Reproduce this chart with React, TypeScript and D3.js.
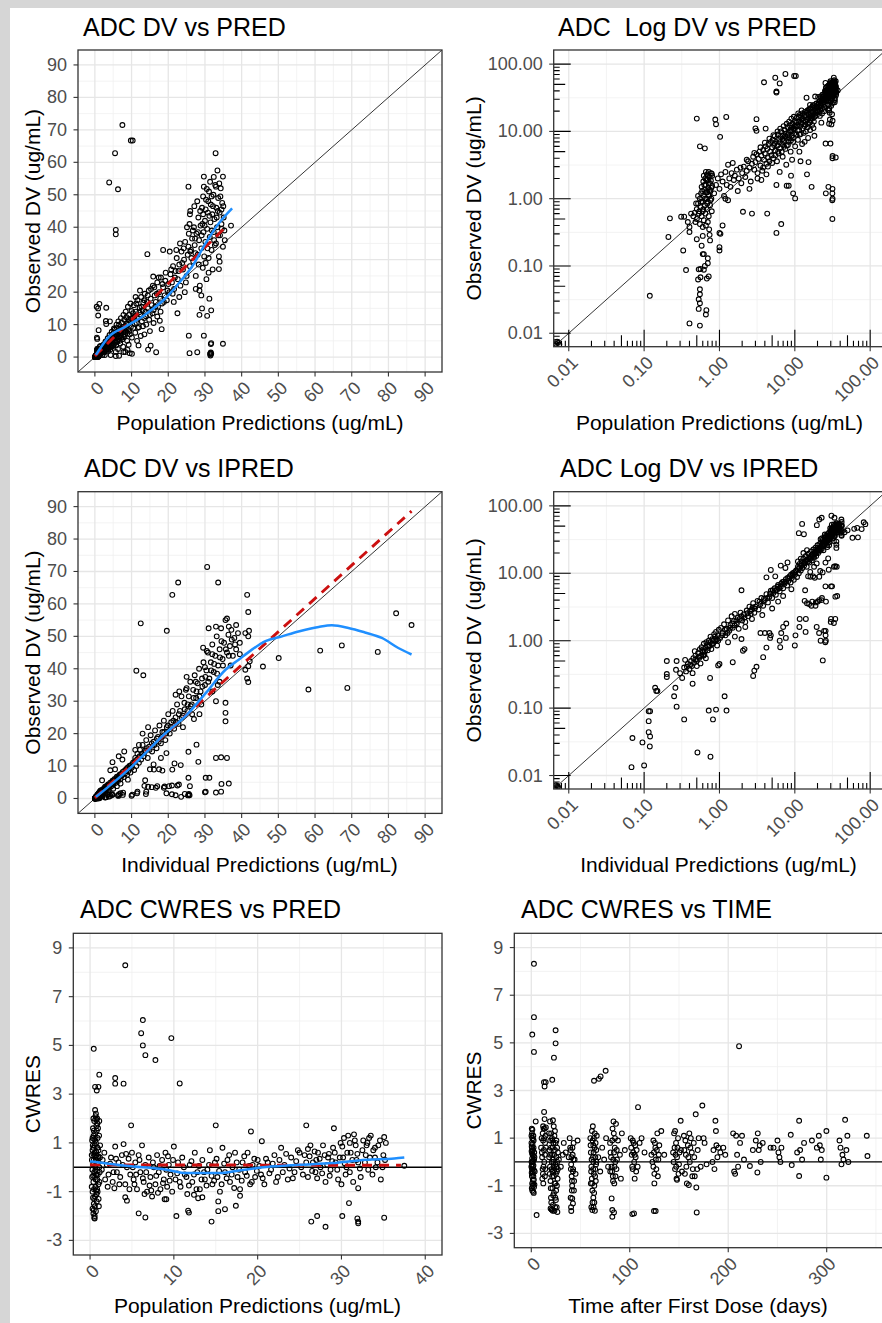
import React from "react";
import * as d3 from "d3";

type Pt = [number, number];

// ---------- data: PRED vs DV (used for linear and log panels) ----------
const PRED_DV_A: Pt[] = [
  [0.0068,0.0069],[0.0072,0.0072],[0.0075,0.0068],[0.007,0.0075],
  [0.45,0.55],[0.47,0.62],[0.48,0.45],[0.5,0.7],[0.5,0.5],[0.52,0.85],[0.53,0.6],[0.55,1.0],[0.55,0.42],[0.56,0.75],[0.57,1.2],[0.58,0.55],[0.58,1.5],[0.6,0.9],[0.6,0.65],[0.61,1.8],[0.62,1.1],[0.62,0.48],[0.63,1.35],[0.64,0.8],[0.65,2.0],[0.65,0.6],[0.66,1.6],[0.67,1.0],[0.68,2.3],[0.68,0.7],[0.69,1.25],[0.7,1.9],[0.7,0.9],[0.71,1.45],[0.72,2.5],[0.72,0.55],[0.73,1.1],[0.74,2.1],[0.75,1.7],[0.75,0.8],[0.76,1.3],[0.77,2.4],[0.78,1.0],[0.8,1.55],[0.8,2.2],[0.79,0.65],[0.66,0.4],[0.6,0.38],[0.7,0.45],[0.73,0.35],
  [0.57,0.9],[0.59,1.3],[0.61,0.7],[0.63,1.6],[0.64,1.0],[0.66,1.25],[0.67,1.9],[0.69,0.85],[0.71,1.15],[0.72,1.7],[0.74,1.35],[0.76,0.95],[0.77,1.85],[0.78,1.45],[0.79,2.35],[0.62,2.2],[0.66,2.5],[0.7,2.2],[0.52,1.1],[0.54,0.65],[0.49,0.85],
  [0.4,0.014],[0.55,0.013],[0.53,0.023],[0.55,0.028],[0.53,0.032],[0.55,0.038],[0.55,0.045],[0.67,0.022],[0.66,0.019],[0.52,0.063],[0.56,0.068],[0.53,0.089],[0.56,0.09],[0.62,0.088],[0.68,0.065],[0.64,0.1],[0.62,0.15],[0.6,0.15],[0.7,0.11],[0.75,0.24],[0.74,0.29],[0.5,0.25],[0.58,0.2],[0.6,0.28],[0.72,0.07],[0.7,0.13],
  [0.36,0.087],[0.33,0.17],[0.119,0.036],[0.22,0.51],[0.21,0.27],[0.31,0.54],[0.34,0.54],[0.38,0.45],[0.4,0.32],[1.0,0.19],[1.0,0.17],[1.0,0.31],[1.03,0.3],[1.1,0.4],[0.42,0.6],[0.4,0.38],
  [0.64,5.6],[0.88,15],[0.9,12.8],[1.23,16.4],[1.02,8.3],[0.5,15.5],[0.55,6.0],[3.1,15.2],[3.0,11.1],[3.1,10.2],[4.1,11],[2.05,0.64],[2.7,0.6],[4.3,0.6],[5.7,0.31],[6.6,0.42],[7.8,1.56],[8.3,1.56],[10.1,1.01],[11.9,3.6],[14.5,2.3],[16.7,1.5],[15.2,3.5],[9.5,1.2]
];
const PRED_DV_B: Pt[] = [
  [0.85,1.2],[0.9,1.6],[0.95,2.0],[1.0,1.4],[1.05,2.3],[1.1,1.8],[1.15,1.1],[1.2,2.5],[1.25,1.6],[1.3,3.2],[1.35,2.0],[1.4,1.5],[1.45,2.4],[1.5,3.4],[1.55,1.9],[1.6,2.2],[1.7,2.7],[1.75,1.3],[1.8,2.0],[1.9,2.9],[1.95,1.7],[2.0,2.4],[1.3,0.95],[1.2,1.0],
  [2.1,3.0],[2.2,2.1],[2.3,2.6],[2.4,3.6],[2.5,2.9],[2.6,1.8],[2.7,3.3],[2.8,4.2],[2.9,2.7],[3.0,3.5],[3.1,4.6],[3.2,2.4],[3.3,3.9],[3.4,5.0],[3.5,3.1],[3.6,4.4],[3.7,2.6],[3.8,5.3],[3.9,3.8],[4.0,4.7],[4.1,6.0],[4.2,3.3],[4.3,5.5],[4.4,4.1],[4.5,6.5],[4.6,3.6],[4.7,5.0],[4.8,7.0],[4.9,4.4],[5.0,5.8],[2.5,1.4],[3.6,1.9],[4.2,2.3],
  [2.3,3.8],[2.9,4.8],[3.5,5.8],[4.0,6.8],[4.6,7.8],[5.2,8.8],[5.9,10.0],[6.4,11.0],[7.1,12.0],[7.8,13.0],[8.4,14.0],[9.0,15.5],[9.7,16.5],
  [3.2,2.0],[3.8,2.9],[4.4,3.0],[5.0,3.4],[5.5,4.4],[6.0,5.0],[6.7,5.0],[7.2,5.9],[7.8,6.2],[8.2,7.0],[8.9,7.4],[9.4,8.0],[5.4,6.6],[6.3,6.9],[6.9,7.8],[7.4,8.4],[8.0,8.8],[8.7,10.4],[9.2,11.4],[9.9,11.9],
  [5.1,7.5],[5.2,4.0],[5.3,6.3],[5.4,8.5],[5.5,5.2],[5.6,7.0],[5.8,3.6],[5.9,6.2],[6.0,9.0],[6.1,4.7],[6.2,7.6],[6.4,5.6],[6.5,8.3],[6.6,10.0],[6.8,6.5],[6.9,4.2],[7.0,8.8],[7.2,7.2],[7.3,10.6],[7.5,5.5],[7.6,9.3],[7.8,7.8],[8.0,11.5],[8.1,6.3],[8.3,9.6],[8.5,8.0],[8.6,12.3],[8.8,5.0],[9.0,10.2],[9.1,8.6],[9.3,13.0],[9.5,7.0],[9.6,11.0],[9.8,9.3],[10.0,14.2],[10.1,6.0],[6.3,2.5],[7.7,3.2],[9.2,3.8],[5.7,1.6],[8.9,2.2]
];
const PRED_DV_C: Pt[] = [
  [10.3,11.8],[10.5,9.0],[10.6,16.0],[10.8,12.5],[11.0,7.5],[11.2,14.0],[11.4,10.5],[11.6,17.5],[11.8,12.0],[12.0,9.2],[12.2,15.2],[12.4,13.0],[12.6,18.5],[12.8,11.0],[13.0,14.5],[13.2,16.8],[13.4,12.0],[13.6,19.5],[13.8,14.0],[14.0,10.0],[14.2,17.0],[14.5,15.0],[14.7,20.5],[15.0,13.0],[15.2,18.0],[15.5,16.0],[15.8,22.0],[16.0,14.5],[16.3,19.0],[16.6,17.0],[17.0,23.0],[17.2,15.5],[17.5,20.0],[17.8,18.0],[18.0,24.5],[18.3,16.5],[18.6,21.5],[19.0,19.0],[19.3,26.0],[19.6,17.5],[20.0,22.5],[12.5,6.5],[15.0,8.0],[16.0,10.5],[18.2,8.6],[17.7,11.2],[15.9,24.8],[14.3,31.7],[18.6,33],[20.4,32.5],[11.5,5.0],[13.5,7.0],[17.0,12.5],
  [10.4,13.5],[10.9,10.2],[11.3,16.5],[11.7,9.0],[12.1,13.8],[12.7,15.5],[13.1,9.5],[13.5,17.5],[13.9,12.6],[14.4,19.0],[14.8,11.5],[15.3,21.0],[15.7,13.5],[16.2,21.5],[16.5,15.5],[16.9,19.5],[17.4,24.5],[17.9,14.0],[18.4,22.5],[18.8,17.0],[19.2,23.5],[19.8,20.5],[11.1,18.5],[12.3,20.5],
  [20.3,20.0],[20.6,25.5],[21.0,23.0],[21.3,28.0],[21.6,21.0],[22.0,26.5],[22.3,30.5],[22.6,24.0],[23.0,28.5],[23.3,22.0],[23.6,32.5],[24.0,27.0],[24.3,30.0],[24.6,35.5],[25.0,25.0],[25.3,31.5],[25.6,38.0],[25.9,28.0],[21.5,17.0],[23.0,18.5],[24.5,20.0],[22.5,13.5],[25.5,52.5],[26.0,45.0],[25.8,41.0],
  [20.8,27.0],[21.2,19.5],[21.8,24.5],[22.2,33.0],[22.8,26.5],[23.2,35.0],[23.8,29.0],[24.2,33.5],[24.8,23.0],[25.1,40.0],[25.5,34.0],[25.9,44.0],[26.3,30.5],[26.7,39.0],[27.1,46.5],[27.4,32.0],[27.9,48.0],[28.3,28.5],[28.7,45.0],[29.1,37.5],[29.5,49.5],[29.9,40.5],[30.2,45.5],[30.7,33.5],[31.2,43.5],[31.4,54.0],[31.9,39.0],[32.2,46.5],[32.7,34.5],[33.2,43.0],[33.6,37.5],[34.2,49.5],[34.6,39.5],[35.0,46.5],[35.4,36.0],[33.9,53.5],[32.4,55.5],[30.9,48.0],[29.3,41.0],[28.1,38.5],[27.3,36.5],[26.0,32.5],
  [26.2,33.0],[26.5,36.5],[26.8,29.5],[27.0,40.0],[27.2,34.5],[27.5,25.0],[27.7,38.0],[28.0,31.5],[28.2,43.0],[28.4,36.0],[28.6,22.0],[28.8,40.5],[29.0,33.5],[29.2,46.0],[29.4,27.5],[29.6,38.5],[29.7,52.5],[29.8,31.0],[30.0,42.0],[30.1,35.5],[30.3,48.5],[30.4,24.0],[30.6,39.5],[30.8,44.5],[31.0,30.5],[31.1,51.0],[31.3,37.0],[31.5,41.5],[31.6,47.0],[31.8,33.0],[32.0,44.0],[32.1,27.0],[32.3,50.0],[32.4,38.5],[32.6,42.5],[32.8,53.0],[33.0,35.0],[33.1,46.0],[33.3,40.0],[33.4,57.5],[33.6,49.0],[33.8,31.0],[34.0,44.5],[34.1,37.5],[34.3,52.0],[34.5,41.0],[34.7,47.5],[34.9,34.0],[35.1,43.0],[35.3,39.0],[29.7,55.6],[32.9,62.8],[34.9,55.6],[37.1,40.5],[33.8,27.1],[34.0,29.4],[28.5,20.5],[27.5,21.0],[30.2,29.0],[31.0,26.0],[32.5,36.0],[33.5,45.0],[31.8,49.5],[30.5,51.8],[29.5,44.0],[33.0,52.5],[34.5,45.5],
  [25.6,6.6],[29.7,6.6],[25.8,1.2],[27.9,1.5],[31.5,1.2],[31.7,1.0],[31.6,1.4],[31.4,0.95],[31.7,4.3],[31.6,4.0],[34.9,4.1],[30.6,12.7],[31.7,14.4],[31.2,18],[29,19],[31.5,0.5],[28.5,13],[29.2,15],
  [7.5,71.5],[9.8,66.7],[10.3,66.7],[5.5,62.8],[3.9,53.8],[6.3,51.7],[5.7,39.2],[5.7,37.8]
];
const PRED_DV: Pt[] = [...PRED_DV_A, ...PRED_DV_B, ...PRED_DV_C];

// ---------- data: IPRED vs DV ----------
const IPRED_DV_A: Pt[] = [
  [0.007,0.007],[0.0072,0.0068],[0.0068,0.0072],
  [0.068,0.0133],[0.1,0.0141],[0.07,0.036],[0.095,0.031],[0.119,0.027],[0.115,0.044],[0.12,0.038],[0.115,0.064],[0.115,0.09],[0.12,0.09],[0.14,0.2],[0.145,0.18],[0.15,0.18],[0.2,0.5],[0.2,0.32],[0.2,0.29],[0.27,0.5],[0.265,0.37],[0.26,0.2],[0.25,0.15],[0.27,0.105],[0.34,0.068],[0.44,0.23],[0.51,0.022],[0.76,0.019],[0.72,0.092],[0.9,0.095],[0.82,0.068],[1.17,0.15],[1.24,0.092],[0.75,0.28],[0.96,0.43],[1.0,0.45],[1.5,0.48],[1.96,1.06],[2.05,0.71],[2.15,0.75],[2.9,0.36],[3.1,0.41],[2.8,0.3],[3.8,0.57],[4.2,0.79],[4.6,1.3],[4.8,1.2],[4.7,1.1],[3.5,1.3],[4.0,1.3],[6.3,1.0],[6.6,1.3],[6.4,0.8],[7.0,1.6],[7.7,1.8],[7.6,1.1],[10,0.85],[11.5,1.6],[13.9,1.35],[1.96,5.6],
  [0.3,0.33],[0.32,0.28],[0.34,0.4],[0.36,0.35],[0.38,0.45],[0.4,0.38],[0.42,0.5],[0.43,0.42],[0.45,0.55],[0.46,0.47],[0.48,0.6],[0.5,0.5],[0.5,0.42],[0.52,0.65],[0.54,0.56],[0.55,0.75],[0.57,0.6],[0.58,0.8],[0.6,0.68],[0.62,0.9],[0.63,0.62],[0.65,0.78],[0.67,0.95],[0.7,0.72],[0.72,1.0],[0.74,0.85],[0.76,1.15],[0.78,0.75],[0.8,1.05],[0.82,0.9],[0.85,1.25],[0.88,1.0],[0.9,1.35],[0.93,0.85],[0.95,1.2],[0.98,1.45],[0.44,0.33],[0.56,0.46],[0.66,0.55],[0.47,0.7],[0.35,0.52],
  [0.37,0.41],[0.41,0.44],[0.49,0.53],[0.53,0.58],[0.59,0.72],[0.61,0.6],[0.64,0.7],[0.68,0.85],[0.71,0.82],[0.75,0.95],[0.79,0.9],[0.84,1.0],[0.87,1.15],[0.92,1.05],[0.96,1.0],
  [1.02,1.1],[1.05,1.55],[1.1,1.3],[1.15,1.75],[1.2,1.2],[1.25,1.5],[1.3,2.0],[1.35,1.4],[1.4,1.7],[1.45,2.3],[1.5,1.55],[1.55,1.95],[1.6,2.5],[1.7,1.8],[1.75,2.2],[1.8,1.5],[1.9,2.6],[2.0,2.0],[2.1,2.45],[2.2,1.9],[2.3,2.8],[2.4,2.3],[2.5,3.2],[2.6,2.5],[2.7,2.9],[2.8,3.6],[2.9,2.6],[3.0,3.2],[1.3,0.95],[1.6,1.15],[2.2,1.6],[2.7,2.1],
  [1.08,1.2],[1.18,1.45],[1.28,1.3],[1.38,1.55],[1.48,1.8],[1.58,1.7],[1.68,2.0],[1.85,2.1],[1.95,2.3],[2.15,2.2],[2.35,2.55],[2.55,2.75],[2.75,3.1],[2.95,3.0]
];
const IPRED_DV_B: Pt[] = [
  [3.2,3.9],[3.3,2.9],[3.5,3.5],[3.6,4.3],[3.8,3.3],[4.0,4.0],[4.2,4.9],[4.4,3.7],[4.6,4.5],[4.8,5.5],[5.0,4.3],[5.2,5.1],[5.4,6.0],[5.6,4.8],[5.8,5.7],[6.0,6.7],[6.3,5.4],[6.5,6.3],[6.8,7.4],[7.0,6.0],[7.3,7.0],[7.6,8.2],[7.9,6.6],[8.2,7.7],[8.5,9.0],[8.8,7.3],[9.1,8.5],[9.4,10.0],[9.7,8.0],[10.0,9.5],[4.2,8.7],[4.8,11.2],[5.5,9.0],[6.5,13.0],[7.5,12.0],[8.0,14.5],[3.7,2.4],[5.0,3.0],[6.0,3.8],[7.0,4.6],[9.0,5.8],
  [3.4,3.8],[3.9,4.2],[4.3,4.3],[4.7,5.0],[5.1,5.6],[5.5,5.5],[5.9,6.3],[6.2,6.0],[6.6,7.0],[7.1,7.5],[7.5,7.4],[8.0,8.5],[8.4,8.4],[8.9,9.5],[9.3,9.2],[9.8,10.3],
  [10.4,11.0],[10.7,8.8],[11.0,12.5],[11.3,10.0],[11.6,13.8],[12.0,11.0],[12.3,15.0],[12.6,12.0],[13.0,16.5],[13.3,13.0],[13.7,14.8],[14.0,18.0],[14.4,12.5],[14.8,16.0],[15.2,19.5],[15.6,14.5],[16.0,17.5],[16.4,21.0],[16.8,15.5],[17.2,19.0],[17.6,22.5],[18.0,17.0],[18.4,20.5],[18.8,24.0],[19.2,18.0],[19.6,22.0],[20.0,26.0],[12.0,16.5],[13.0,20.0],[11.0,15.0],[14.5,22.0],[16.0,10.5],[18.0,12.5],[17.5,9.0],[19.5,14.0],[15.0,9.0],
  [10.2,10.5],[10.9,11.5],[11.5,12.0],[12.2,13.0],[12.9,13.8],[13.5,14.2],[14.2,15.5],[14.9,15.0],[15.5,17.0],[16.2,16.5],[16.9,18.5],[17.4,17.5],[18.2,19.0],[18.9,20.5],[19.4,20.0],[19.9,22.5]
];
const IPRED_DV_C: Pt[] = [
  [20.4,20.0],[20.8,23.5],[21.2,27.0],[21.6,21.5],[22.0,25.0],[22.4,29.0],[22.8,23.0],[23.2,27.0],[23.6,31.5],[24.0,25.5],[24.4,29.5],[24.8,33.5],[25.2,27.0],[25.6,31.5],[26.0,36.0],[26.4,29.0],[26.8,33.5],[27.2,38.0],[27.6,31.0],[28.0,35.5],[28.4,40.0],[28.8,33.0],[29.2,37.0],[29.6,42.0],[30.0,35.0],[22.0,32.0],[23.0,33.0],[25.0,37.5],[26.5,26.0],[28.5,26.0],[24.0,22.0],[27.0,24.5],[29.0,29.0],
  [20.6,22.0],[21.4,24.0],[22.2,23.5],[22.9,26.0],[23.7,25.0],[24.5,27.5],[25.3,29.0],[26.1,28.5],[26.9,31.0],[27.7,33.0],[28.5,31.5],[29.3,34.5],[30.1,37.5],[30.9,36.0],[31.7,39.5],[32.5,41.5],[33.3,38.5],[34.1,43.5],[34.9,41.0],[35.7,46.0],[36.5,44.0],[37.3,49.0],[38.2,47.5],[39.5,48.0],[25.0,34.0],[27.5,36.0],[30.0,40.5],[32.0,44.5],[34.5,48.5],[36.5,53.0],[38.5,53.5],[39.5,44.5],[37.0,41.0],[33.5,35.0],
  [30.4,39.5],[30.8,45.0],[31.2,37.0],[31.6,42.0],[32.0,47.5],[32.4,39.0],[32.8,44.0],[33.2,50.0],[33.6,41.0],[34.0,46.0],[34.4,52.5],[34.8,43.0],[35.2,48.0],[35.6,55.0],[36.0,45.0],[36.4,50.5],[36.8,47.0],[37.2,52.0],[37.6,44.0],[38.0,49.5],[38.5,46.0],[39.0,51.0],[32.0,33.0],[33.0,30.0],[34.0,36.0],[35.6,29.5],[35.6,26.4],[35.6,23.8],[31.0,52.5],[33.0,53.0],[36.0,55.5],[30.5,45.5],[29.5,46.5],
  [41.0,51.0],[41.8,50.0],[42.0,51.7],[41.0,39.7],[41.5,37.0],[41.8,35.9],[41.8,40.8],[42.2,42.3],
  [30.6,71.4],[22.7,66.6],[33.6,66.6],[21.1,62.8],[41.5,62.8],[41.8,57.5],[12.5,54],[19.6,51.7],[11.3,39.4],[13.2,38],[82.1,57.1],[86.3,53.5],[61.4,45.6],[67.3,47.2],[77.1,45.2],[50.1,43.3],[45.8,40.7],[58.2,33.6],[68.8,34.1],[34.4,12.7],[31.2,6.4],[36.5,4.6],[34.4,2.1],[30.2,2.1],[25.5,14.4],[28.2,11.3],[27.7,16.6],[23.4,10.3],[21.7,10.8],[21.1,8.9],[18.4,8.6],[16.1,8.9],
  [13.7,5.6],[14,2.1],[11.6,2.1],[10.2,1.2],[16.6,3.3],[18.8,3.3],[20.2,3.8],[22.9,4.3],[25.5,6.4],[25.9,3.8],[19.5,1.6],[21,1.3],[22,1.0],[23.5,0.51],[24.5,1.4],[25.6,1.2],[25.8,1.0],[25.4,0.95],[25.6,1.4],[30,1.9],[33,1.83],[30.2,6.4],[34.5,4.5],[33,12.5],[36,12.5],[13.5,3.9],[14.5,3.6],[15.5,3.5],[17,3.8],[19,3.7],[21,4.0],[22.5,4.0]
];
const IPRED_DV: Pt[] = [...IPRED_DV_A, ...IPRED_DV_B, ...IPRED_DV_C];

// ---------- data: PRED vs CWRES ----------
const PRED_CWRES_A: Pt[] = [
  [0.2,0.5],[0.25,-0.4],[0.3,1.2],[0.3,-1.0],[0.35,0.1],[0.35,1.6],[0.4,-0.6],[0.4,0.8],[0.45,-1.5],[0.45,0.3],[0.5,1.9],[0.5,-0.2],[0.5,-2.07],[0.55,-2.1],[0.55,0.6],[0.6,-1.2],[0.6,1.4],[0.6,2.35],[0.65,-0.8],[0.65,0.0],[0.7,1.0],[0.7,-1.8],[0.7,2.2],[0.75,-0.3],[0.75,1.7],[0.8,0.4],[0.8,-1.4],[0.85,2.0],[0.85,-0.5],[0.9,1.2],[0.9,-1.0],[0.95,0.2],[0.95,1.6],[1.0,-0.7],[1.0,0.7],[1.05,-1.6],[1.1,1.9],[1.1,0.0],[1.15,-0.2],[1.2,0.9],[0.3,-1.7],[0.4,-1.9],[0.45,1.5],[0.55,0.9],[0.65,-0.1],[0.75,0.5],[0.85,-0.9],[0.2,-0.8],[0.25,1.1],[0.4,2.0],[0.5,-1.3],[0.7,0.3],[0.6,-0.4],[0.3,0.7],[0.8,1.5],
  [0.22,0.3],[0.28,-0.1],[0.33,0.9],[0.38,-0.35],[0.42,1.3],[0.47,-0.9],[0.52,0.45],[0.57,-1.6],[0.62,1.1],[0.67,-0.5],[0.72,0.65],[0.78,-1.1],[0.82,0.15],[0.88,1.8],[0.92,-0.3],[0.98,0.45],[1.02,-1.3],[1.08,1.3],[1.12,-0.6],[1.18,0.4],[0.35,-1.25],[0.45,-1.75],[0.55,-2.0],[0.65,2.1],[0.75,1.95],[0.5,1.15],[0.6,0.05],[0.7,-0.95],[0.9,0.8],[0.4,0.55],
  [1.5,0.3],[1.8,-0.5],[2.0,0.1],[2.2,-0.3],[2.5,0.4],[2.7,-0.6],[3.0,0.85],[3.2,-0.2],[3.4,0.2],[3.6,-0.4],[3.8,0.5],[4.0,0.95],[4.2,-0.7],[4.4,0.0],[4.6,0.35],[4.8,-0.3],[5.0,0.6],
  [1.4,-0.1],[1.7,0.6],[2.1,-0.8],[2.4,0.15],[2.8,-0.2],[3.1,0.35],[3.5,-0.7],[3.9,0.1],[4.3,0.55],[4.7,-0.9],[5.1,0.0],[5.5,-0.3],[5.9,0.3],[6.3,-0.45],[6.7,-0.2],[7.1,-0.75],[7.5,0.2],[7.9,-0.35],[8.3,0.05],[8.7,-0.65],[9.1,-0.1],[9.5,-0.55],[9.9,0.3],[6.5,-1.1],[7.3,-0.95],[8.1,-1.05],[5.3,-0.7],[9.3,0.45],
  [5.2,-0.5],[5.4,0.2],[5.6,-0.9],[5.8,0.5],[6.0,-0.2],[6.2,0.9],[6.4,-0.6],[6.6,0.1],[6.8,-1.0],[7.0,0.4],[7.2,-0.4],[7.4,-1.2],[7.6,0.0],[7.8,-0.7],[8.0,0.5],[8.2,-0.2],[8.4,-0.9],[8.6,0.3],[8.8,-0.5],[9.0,0.6],[9.2,-0.8],[9.4,0.1],[9.6,-0.3],[9.8,-1.0],[10.0,0.85]
];
const PRED_CWRES_B: Pt[] = [
  [10.2,-0.5],[10.5,0.2],[10.8,-0.8],[11.0,0.4],[11.3,-0.3],[11.6,-1.1],[11.9,0.1],[12.2,-0.6],[12.5,0.6],[12.8,-0.2],[13.1,-0.9],[13.4,0.3],[13.7,-0.5],[14.0,-0.1],[14.3,0.7],[14.6,-0.7],[14.9,0.2],[15.2,-0.4],[15.5,-1.0],[15.8,0.8],[16.1,-0.2],[16.4,0.3],[16.7,-0.6],[17.0,0.0],[17.3,0.6],[17.6,-0.4],[17.9,-0.9],[18.2,0.2],[18.5,-0.2],[18.8,0.6],[19.1,-0.7],[19.4,0.1],[19.7,-0.4],
  [10.4,-0.25],[10.7,-0.6],[11.2,0.0],[11.5,-0.4],[11.8,-0.75],[12.1,0.25],[12.4,-0.3],[12.7,-0.9],[13.0,0.05],[13.3,-0.5],[13.6,-0.2],[13.9,-0.75],[14.2,0.1],[14.5,-0.35],[14.8,-0.55],[15.1,0.35],[15.4,-0.15],[15.7,-0.7],[16.0,0.15],[16.3,-0.45],[16.6,0.5],[16.9,-0.3],[17.2,-0.85],[17.5,0.2],[17.8,-0.1],[18.1,-0.55],[18.4,0.45],[18.7,-0.35],[19.0,0.05],[19.3,-0.6],[19.6,0.35],[19.9,-0.15],
  [20.0,0.3],[20.4,-0.3],[20.8,-0.7],[21.2,0.2],[21.6,-0.1],[22.0,0.5],[22.4,-0.4],[22.8,0.8],[23.2,0.1],[23.6,-0.5],[24.0,0.4],[24.4,-0.2],[24.8,0.7],[25.2,0.0],[25.6,0.5],[26.0,-0.4],[26.3,0.9],[26.6,0.2],[26.9,-0.2],[27.2,0.6],[27.5,0.0],[27.8,0.9],[28.1,-0.6],[28.4,0.4],[28.7,-0.1],[29.0,0.8],[29.3,0.2],[29.6,-0.5],[29.9,1.0],
  [20.2,0.05],[20.6,-0.45],[21.0,0.35],[21.4,-0.25],[21.8,0.15],[22.2,-0.6],[22.6,0.3],[23.0,-0.2],[23.4,0.55],[23.8,-0.05],[24.2,-0.45],[24.6,0.25],[25.0,0.6],[25.4,-0.3],[25.8,0.2],[26.2,0.45],[26.5,-0.15],[26.8,0.65],[27.1,-0.45],[27.4,0.35],[27.7,-0.25],[28.0,0.5],[28.3,0.1],[28.6,-0.35],[28.9,0.25],[29.2,0.6],[29.5,-0.1],[29.8,0.4],
  [30.1,0.85],[30.4,0.15],[30.7,0.6],[31.0,-0.2],[31.3,0.3],[31.6,1.1],[31.9,0.55],[32.2,-0.05],[32.5,0.7],[32.8,0.2],[33.1,1.0],[33.4,0.4],[33.7,-0.3],[34.0,0.8],[34.3,0.2],[34.6,1.1],[34.9,0.0],[35.2,0.3],[30.3,1.2],[31.5,1.35],[33.3,1.2],
  [30.2,0.4],[30.5,-0.3],[30.8,1.3],[31.1,0.6],[31.4,-0.6],[31.7,0.9],[32.0,0.2],[32.3,-0.4],[32.6,1.1],[32.9,0.5],[33.2,-0.1],[33.5,1.3],[33.8,0.7],[34.1,0.0],[34.4,0.9],[34.7,-0.5],[35.0,0.5],[35.3,1.0],[30.6,0.0],[31.0,1.0],[31.8,0.3],[33.0,0.9],[34.0,0.4],[30.0,-0.7],[28.5,0.55],[27.0,0.3],[26.0,0.75],
  [4.2,8.29],[6.3,6.04],[6.1,5.5],[6.3,5.0],[6.6,4.6],[7.8,4.4],[9.7,5.3],[10.7,3.44],[0.44,4.86],[1.1,3.8],[0.6,3.3],[1.0,3.3],[0.8,3.15],[3.0,3.66],[3.0,3.43],[4.0,3.43],[4.9,1.72],[15.0,1.72],[19.2,1.47],[20.5,1.07],[25.8,1.72],[29.1,1.6],[35.1,1.24],[37.5,0.06],
  [5.8,-1.89],[6.6,-2.06],[10.3,-2.0],[14.5,-2.23],[15.3,-1.4],[15.3,-1.8],[16.1,-1.72],[17.4,-1.58],[17.9,-1.17],[26.4,-2.23],[27.1,-2.0],[28.1,-2.44],[30.1,-2.0],[30.9,-1.47],[31.9,-2.1],[32.0,-2.23],[32.0,-2.3],[35.1,-2.07],[32.0,-0.86],[11.7,-1.78],[11.8,-1.86],[12.4,-1.13],[12.9,-1.27],[13.4,-1.23],[4.2,-1.23],[4.4,-1.37],[8.9,-1.31],[9.1,-1.31],[2.9,-0.86]
];
const PRED_CWRES: Pt[] = [...PRED_CWRES_A, ...PRED_CWRES_B];

// ---------- data: TIME vs CWRES ----------
const TIME_CWRES_A: Pt[] = [
  [0.5,1.4],[1,1.0],[0.8,0.6],[1.5,0.3],[0.3,0.0],[1.2,-0.3],[0.6,-0.6],[2.0,-0.9],[1.0,-1.2],[2.5,-1.3],[0.2,0.8],[1.8,0.5],[0.9,0.15],[2.2,-0.15],[0.4,-0.45],[1.6,-0.75],[2.8,-1.05],[0.7,1.2],[2.4,0.9],[3.0,0.4],[1.3,-0.5],[0.1,-0.2],[2.1,1.1],[3.5,-0.4],[3.2,0.2],
  [0.3,0.45],[0.6,-0.15],[0.9,-0.9],[1.2,0.75],[1.5,-1.0],[1.8,0.05],[2.1,-0.6],[2.4,0.25],[2.7,-0.35],[0.2,1.1],[0.5,-1.1],[0.8,0.35],[1.1,1.35],[1.4,-0.4],[1.7,0.95],[2.0,-1.25],[2.3,0.6],[2.6,-0.75],[2.9,0.1],[3.2,-0.95],[0.4,0.65],[0.7,-0.3],[1.0,0.45],[1.3,0.0],[1.6,-0.2],
  [2.7,8.32],[2.7,6.08],[1.0,5.35],[2.7,4.62],[5.4,-2.23],[4.5,1.7],
  [11,0.2],[12,1.5],[12.5,1.4],[13,2.1],[13.5,1.8],[14,0.8],[11.5,-0.3],[12.8,0.5],[13.8,-0.6],[14.5,1.1],[10.5,1.0],[12.2,-0.9],[13.2,0.0],[14.8,1.45],[12.9,3.35],[13.5,3.17],[14.6,3.35],[11.8,-0.5],[10,0.6],
  [10.8,0.4],[11.6,1.2],[12.4,-0.2],[13.1,1.0],[13.9,0.3],[14.2,-0.3],[12.0,0.9],[11.2,-0.7],[13.6,1.4],[14.9,0.6],
  [18,1.2],[18.5,0.5],[19,-0.2],[19.5,-0.8],[20,-1.5],[20.5,-2.0],[21,1.0],[21,0.3],[21.5,-0.4],[21.5,-1.1],[22,-1.8],[22,1.75],[22.5,0.8],[22.5,0.0],[23,-0.6],[23,-1.3],[23.5,-2.05],[24,1.3],[24,0.5],[24.5,-0.1],[24.5,-0.9],[25,-1.6],[25.5,0.9],[25.5,0.2],[26,-0.4],[26,-1.0],[26.5,-2.1],[27,0.4],[27,-0.3],[20,0.6],[19,1.7],[23.5,1.1],[25,-0.5],[21,-2.0],[24.7,5.53],[24.7,4.98],[23,4.38],[21.3,3.45],[28,0.1],[30,-0.2],[32,0.3],[35,0.4],[33,0.8],
  [18.2,0.2],[18.8,-0.5],[19.3,0.9],[19.8,-1.1],[20.3,-1.7],[20.8,0.0],[21.2,-0.6],[21.7,0.6],[22.2,-1.4],[22.7,-0.2],[23.2,0.3],[23.7,-0.9],[24.2,-1.9],[24.7,0.8],[25.2,-1.2],[25.7,-0.2],[26.2,0.6],[26.7,-0.7],[19.6,-1.95],[20.2,1.2],[21.8,-2.05],[22.8,1.5],[24.4,-1.5],[25.8,-1.9],[26.3,0.0],[23.4,-0.35],[21.4,0.9],[20.6,-0.3],[19.2,0.3],[22.0,0.1]
];
const TIME_CWRES_B: Pt[] = [
  [39,1.0],[40,0.5],[40.5,-0.1],[41,-0.6],[41.5,-1.0],[42,0.3],[42.5,-0.3],[43,0.8],[43.5,-0.8],[40,-1.5],[40.6,-2.06],[41.6,-1.53],[42.3,-1.74],[44,0.1],[45,-0.5],[47,0.9],[38,0.2],
  [39.5,0.6],[40.2,-0.3],[40.8,0.2],[41.3,-0.8],[41.8,0.6],[42.3,-0.4],[42.8,0.1],[43.3,-1.2],[40.4,-1.9],[41.2,-1.2],
  [60,1.0],[60.5,0.4],[61,-0.2],[61.5,-0.7],[62,-1.2],[62,-2.02],[62.5,1.5],[63,0.7],[63,0.0],[63.5,-0.5],[64,-1.0],[64,-1.7],[64.5,1.2],[65,0.2],[65,-0.3],[65.5,-0.8],[66,0.5],[66.5,1.1],[63,-1.5],[61,-1.9],[63.7,3.41],[68.7,3.49],[70.4,3.59],[75.5,3.83],[68,0.2],[70,-0.4],[72,0.6],[74,0.1],[76,1.0],[78,-0.2],
  [60.2,0.7],[60.8,-0.4],[61.3,0.1],[61.8,-0.9],[62.3,0.9],[62.8,-0.3],[63.3,0.4],[63.8,-1.3],[64.3,0.6],[64.8,-0.6],[65.3,0.8],[65.8,-0.1],[62.2,-1.7],[63.2,-1.9],[61.6,1.3],[64.6,-2.05],[66.2,0.0],[60.5,-0.9],[62.6,0.2],[63.6,1.0],
  [80,0.8],[81,0.2],[82,-0.4],[82.5,1.4],[83,-0.8],[83.5,1.7],[84,0.4],[84.5,-0.2],[85,1.0],[85.5,-0.6],[86,1.6],[87,0.1],[81.6,-1.53],[82.3,-2.02],[84,-2.12],[82.3,-2.3],[88,0.9],[90,0.3],[92,1.2],[91,-0.7],[95,0.5],
  [80.5,0.4],[81.5,-0.2],[82.2,0.9],[82.8,-0.6],[83.3,0.1],[83.8,1.2],[84.3,-0.9],[84.8,0.6],[85.3,0.0],[86.5,-0.3],[80.2,-0.4],[86.8,0.5],
  [101,1.0],[102,0.3],[103,-0.3],[104,0.8],[105,-0.7],[106,0.2],[107,0.5],[102.6,-2.19],[104.3,-2.16],[108.4,2.3],[110,0.8],[112,1.0],[115,0.4],[108,-0.2],
  [101.5,0.6],[102.5,-0.2],[103.5,0.4],[104.5,0.0],[105.5,0.7],[106.5,-0.4],[103,0.9],[105,0.3],
  [122,0.3],[124,0.9],[125,-0.5],[126,0.6],[127,-0.3],[128,1.2],[129,0.1],[130,0.7],[124.6,-2.06],[126.3,-2.06],[125,-0.9],[132,1.3],[135,0.3],
  [123,0.0],[124.5,0.4],[125.5,0.8],[126.5,0.1],[127.5,0.5],[128.5,-0.6],[129.5,0.3],[124,-0.2]
];
const TIME_CWRES_C: Pt[] = [
  [144,0.4],[145,1.2],[146,-0.3],[147,0.8],[147.5,-0.7],[148,0.2],[149,1.0],[150,-0.1],[151.7,1.73],[152,0.5],[153,-0.4],
  [144.5,0.0],[145.5,0.6],[146.5,0.3],[147.2,-0.2],[148.5,0.6],[149.5,-0.5],[150.5,0.4],[146,1.3],[148,-0.75],
  [155,1.1],[156,-0.5],[157,0.3],[158,-0.9],[159,0.7],[160,-0.97],[161,0.0],[162,1.0],[163,0.4],[164,-0.3],[165,0.8],[166,-0.6],[167,2.0],[167.6,-1.07],[168,-2.12],[169,0.5],[170,1.0],[172,-0.2],[173.7,2.37],[175,1.0],[176,0.8],[178,-0.1],
  [155.5,0.5],[157.5,-0.2],[159.5,0.2],[161.5,0.6],[163.5,-0.6],[165.5,0.2],[168.5,-0.3],[156.5,0.9],[160.5,1.2],
  [184,0.0],[185,0.5],[186,-0.3],[187,1.73],[187.5,1.3],[188,0.7],[189,0.2],[190,0.6],[192,0.4],[195,0.6],[197,0.3],
  [205,1.2],[206,-0.4],[207,-0.5],[208,1.1],[209,0.3],[210,-0.2],[211,4.86],[212,0.8],[214,1.1],[216,0.1],
  [222,-0.17],[225,0.5],[228,0.9],[229.6,-0.44],[230,1.2],[231,0.5],[232,0.7],[233,0.0],[235,0.8],
  [243,0.6],[246,0.6],[250,0.9],[251,0.4],[252,0.2],[253,0.0],[254,0.6],
  [263.5,1.14],[264.5,-0.13],[270,0.4],[272,1.73],[272,-0.59],[273,0.5],[275,0.1],[277,0.8],
  [285,0.9],[290,0.6],[292,1.1],[293,0.7],[294,0.1],[295,0.5],[299.7,1.3],[299.7,-0.66],
  [313,0.9],[314,0.6],[315,-0.1],[316,0.3],[317,0.1],[318.7,1.77],[320,0.5],[321,1.1],[322,0.0],
  [340.7,1.1],[341.4,0.25]
];
const TIME_CWRES: Pt[] = [...TIME_CWRES_A, ...TIME_CWRES_B, ...TIME_CWRES_C];

// ---------- fitted lines ----------
const LM_PRED: Pt[] = [[0, 0.36], [35.6, 40.0]];
const LOESS_PRED: Pt[] = [[0.3,0.7],[3.9,6.4],[8.4,9.4],[13,12.5],[16.1,15.1],[19.3,18.2],[22.9,22.8],[26.5,27.9],[30.2,35.1],[33.8,41.2],[37.4,45.8]];
const LM_IPRED: Pt[] = [[0, 0.2], [86.3, 88.6]];
const LOESS_IPRED: Pt[] = [[0.3,0.5],[10.2,10],[19.3,20.2],[24.7,25.4],[30.2,32.5],[35.6,39.7],[39.2,42.8],[42.8,45.9],[46.5,48.5],[51,50],[55.5,51.5],[61,52.9],[64.6,53.4],[69.1,52.6],[73.6,51.2],[78.2,49.5],[82.7,46.4],[86.3,44.4]];
const LM_CWRES: Pt[] = [[0, 0.1], [37.1, 0.08]];
const LOESS_CWRES: Pt[] = [[0,0.24],[1.1,0.2],[4.3,0.06],[9.1,-0.1],[11.5,-0.24],[15.4,-0.24],[17.8,-0.13],[21,0.01],[25,0.1],[28.9,0.17],[32.9,0.31],[36.3,0.36],[37.5,0.4]];

// ---------- ticks ----------
const LIN_TICKS = [0, 10, 20, 30, 40, 50, 60, 70, 80, 90];
const LIN_LABELS = ["0", "10", "20", "30", "40", "50", "60", "70", "80", "90"];
const LIN_MINOR = [5, 15, 25, 35, 45, 55, 65, 75, 85];
const LOG_TICKS = [0.01, 0.1, 1, 10, 100];
const LOG_LABELS = ["0.01", "0.10", "1.00", "10.00", "100.00"];
const LOG_MINOR = [0.0316, 0.316, 3.16, 31.6];
const CW_TICKS = [-3, -1, 1, 3, 5, 7, 9];
const CW_LABELS = ["-3", "-1", "1", "3", "5", "7", "9"];
const CW_MINOR = [-2, 0, 2, 4, 6, 8];
const CWP_TICKS = [0, 10, 20, 30, 40];
const CWP_LABELS = ["0", "10", "20", "30", "40"];
const CWP_MINOR = [5, 15, 25, 35];
const TIME_TICKS = [0, 100, 200, 300];
const TIME_LABELS = ["0", "100", "200", "300"];
const TIME_MINOR = [50, 150, 250, 350];

const FONT = "'Liberation Sans', Arial, Helvetica, sans-serif";
const LOG_DOM: [number, number] = [Math.pow(10, -2.2), Math.pow(10, 2.21)];

const PANELS = [
  { id: "p1", title: "ADC DV vs PRED", tx: 83, ty: 35.5, left: 78, right: 442, top: 50, bottom: 372, log: false,
    xd: [-4.6, 94.6], yd: [-4.6, 94.6], xt: LIN_TICKS, xl: LIN_LABELS, xm: LIN_MINOR, yt: LIN_TICKS, yl: LIN_LABELS, ym: LIN_MINOR,
    xTitle: "Population Predictions (ug/mL)", xTy: 430, xTx: 260, yTitle: "Observed DV (ug/mL)", yTx: 40,
    pts: PRED_DV, identity: true, hline: false, red: LM_PRED, blue: LOESS_PRED },
  { id: "p2", title: "ADC  Log DV vs PRED", tx: 558, ty: 35.5, left: 553.7, right: 886, top: 50, bottom: 346.7, log: true,
    xd: LOG_DOM, yd: LOG_DOM, xt: LOG_TICKS, xl: LOG_LABELS, xm: LOG_MINOR, yt: LOG_TICKS, yl: LOG_LABELS, ym: LOG_MINOR,
    xTitle: "Population Predictions (ug/mL)", xTy: 430, xTx: 719.5, yTitle: "Observed DV (ug/mL)", yTx: 481,
    pts: PRED_DV, identity: true, hline: false, red: null, blue: null },
  { id: "p3", title: "ADC DV vs IPRED", tx: 84, ty: 476.5, left: 78, right: 442, top: 491.7, bottom: 813.4, log: false,
    xd: [-4.6, 94.6], yd: [-4.6, 94.6], xt: LIN_TICKS, xl: LIN_LABELS, xm: LIN_MINOR, yt: LIN_TICKS, yl: LIN_LABELS, ym: LIN_MINOR,
    xTitle: "Individual Predictions (ug/mL)", xTy: 871.7, xTx: 259.5, yTitle: "Observed DV (ug/mL)", yTx: 40,
    pts: IPRED_DV, identity: true, hline: false, red: LM_IPRED, blue: LOESS_IPRED },
  { id: "p4", title: "ADC Log DV vs IPRED", tx: 560, ty: 476.5, left: 553.7, right: 886, top: 491.7, bottom: 789, log: true,
    xd: LOG_DOM, yd: LOG_DOM, xt: LOG_TICKS, xl: LOG_LABELS, xm: LOG_MINOR, yt: LOG_TICKS, yl: LOG_LABELS, ym: LOG_MINOR,
    xTitle: "Individual Predictions (ug/mL)", xTy: 871.7, xTx: 718.5, yTitle: "Observed DV (ug/mL)", yTx: 481,
    pts: IPRED_DV, identity: true, hline: false, red: null, blue: null },
  { id: "p5", title: "ADC CWRES vs PRED", tx: 80, ty: 918, left: 73.3, right: 442, top: 933.3, bottom: 1255, log: false,
    xd: [-2, 42], yd: [-3.6, 9.6], xt: CWP_TICKS, xl: CWP_LABELS, xm: CWP_MINOR, yt: CW_TICKS, yl: CW_LABELS, ym: CW_MINOR,
    xTitle: "Population Predictions (ug/mL)", xTy: 1313, xTx: 257.5, yTitle: "CWRES", yTx: 40,
    pts: PRED_CWRES, identity: false, hline: true, red: LM_CWRES, blue: LOESS_CWRES },
  { id: "p6", title: "ADC CWRES vs TIME", tx: 521, ty: 918, left: 514.3, right: 888, top: 933.3, bottom: 1247.7, log: false,
    xd: [-17.25, 362.25], yd: [-3.6, 9.6], xt: TIME_TICKS, xl: TIME_LABELS, xm: TIME_MINOR, yt: CW_TICKS, yl: CW_LABELS, ym: CW_MINOR,
    xTitle: "Time after First Dose (days)", xTy: 1313, xTx: 698, yTitle: "CWRES", yTx: 481,
    pts: TIME_CWRES, identity: false, hline: true, red: null, blue: null },
];

function logTickValues(dom: [number, number]) {
  const out: { v: number; m: number }[] = [];
  for (let k = -3; k <= 2; k++) {
    for (let m = 1; m <= 9; m++) {
      const v = m * Math.pow(10, k);
      if (v >= dom[0] && v <= dom[1]) out.push({ v, m });
    }
  }
  return out;
}

function Panel({ c }: { c: any }) {
  const x: any = c.log ? d3.scaleLog().domain(c.xd).range([c.left, c.right]) : d3.scaleLinear().domain(c.xd).range([c.left, c.right]);
  const y: any = c.log ? d3.scaleLog().domain(c.yd).range([c.bottom, c.top]) : d3.scaleLinear().domain(c.yd).range([c.bottom, c.top]);
  const straight = d3.line<Pt>().x((d) => x(d[0])).y((d) => y(d[1]));
  const smooth = d3.line<Pt>().x((d) => x(d[0])).y((d) => y(d[1])).curve(d3.curveMonotoneX);
  const clip = "clip-" + c.id;
  const w = c.right - c.left;
  const h = c.bottom - c.top;
  const lt = c.log ? logTickValues(c.xd) : [];
  const tickLen = (m: number) => (m === 1 ? 17 : m === 5 ? 11.5 : 6);
  const yMid = (c.top + c.bottom) / 2;
  return (
    <g>
      <defs>
        <clipPath id={clip}>
          <rect x={c.left} y={c.top} width={w} height={h} />
        </clipPath>
      </defs>
      <rect x={c.left} y={c.top} width={w} height={h} fill="#ffffff" />
      <g clipPath={`url(#${clip})`}>
        {c.xm.map((v: number, i: number) => (
          <line key={"xm" + i} x1={x(v)} x2={x(v)} y1={c.top} y2={c.bottom} stroke="#f0f0f0" strokeWidth={0.8} />
        ))}
        {c.ym.map((v: number, i: number) => (
          <line key={"ym" + i} x1={c.left} x2={c.right} y1={y(v)} y2={y(v)} stroke="#f0f0f0" strokeWidth={0.8} />
        ))}
        {c.xt.map((v: number, i: number) => (
          <line key={"xt" + i} x1={x(v)} x2={x(v)} y1={c.top} y2={c.bottom} stroke="#e6e6e6" strokeWidth={1.3} />
        ))}
        {c.yt.map((v: number, i: number) => (
          <line key={"yt" + i} x1={c.left} x2={c.right} y1={y(v)} y2={y(v)} stroke="#e6e6e6" strokeWidth={1.3} />
        ))}
        {c.pts.map((d: Pt, i: number) => (
          <circle key={"p" + i} cx={x(d[0])} cy={y(d[1])} r={2.4} fill="none" stroke="#000" strokeWidth={1.1} />
        ))}
        {c.identity && (
          <line x1={x(c.xd[0])} y1={y(c.xd[0])} x2={x(c.xd[1])} y2={y(c.xd[1])} stroke="#000" strokeWidth={0.8} />
        )}
        {c.hline && <line x1={c.left} x2={c.right} y1={y(0)} y2={y(0)} stroke="#000" strokeWidth={1.3} />}
        {c.red && <path d={straight(c.red) || ""} fill="none" stroke="#cc1010" strokeWidth={2.9} strokeDasharray="10,7" />}
        {c.blue && <path d={smooth(c.blue) || ""} fill="none" stroke="#1f8fff" strokeWidth={2.5} strokeLinejoin="round" />}
        {lt.map((t, i) => (
          <g key={"lt" + i}>
            <line x1={x(t.v)} x2={x(t.v)} y1={c.bottom} y2={c.bottom - tickLen(t.m)} stroke="#000" strokeWidth={1.1} />
            <line x1={c.left} x2={c.left + tickLen(t.m)} y1={y(t.v)} y2={y(t.v)} stroke="#000" strokeWidth={1.1} />
          </g>
        ))}
      </g>
      <rect x={c.left} y={c.top} width={w} height={h} fill="none" stroke="#333" strokeWidth={1.3} />
      {c.xt.map((v: number, i: number) => (
        <g key={"xl" + i}>
          <line x1={x(v)} x2={x(v)} y1={c.bottom} y2={c.bottom + 4.5} stroke="#333" strokeWidth={1.1} />
          <text
            x={x(v) + 6}
            y={c.bottom + 13}
            transform={`rotate(-45, ${x(v) + 6}, ${c.bottom + 13})`}
            textAnchor="end"
            dominantBaseline="central"
            fontSize={18}
            fill="#4d4d4d"
            fontFamily={FONT}
          >
            {c.xl[i]}
          </text>
        </g>
      ))}
      {c.yt.map((v: number, i: number) => (
        <g key={"yl" + i}>
          <line x1={c.left - 4.5} x2={c.left} y1={y(v)} y2={y(v)} stroke="#333" strokeWidth={1.1} />
          <text x={c.left - 11} y={y(v)} textAnchor="end" dominantBaseline="central" fontSize={18} fill="#4d4d4d" fontFamily={FONT}>
            {c.yl[i]}
          </text>
        </g>
      ))}
      <text x={c.tx} y={c.ty} fontSize={25} fill="#000" fontFamily={FONT} style={{ whiteSpace: "pre" }}>
        {c.title}
      </text>
      <text x={c.xTx} y={c.xTy} fontSize={21} fill="#000" fontFamily={FONT} textAnchor="middle">
        {c.xTitle}
      </text>
      <text
        x={c.yTx}
        y={yMid}
        transform={`rotate(-90, ${c.yTx}, ${yMid})`}
        fontSize={21}
        fill="#000"
        fontFamily={FONT}
        textAnchor="middle"
      >
        {c.yTitle}
      </text>
    </g>
  );
}

export default function App() {
  return (
    <svg
      width={882}
      height={1323}
      viewBox="0 0 882 1323"
      style={{ position: "absolute", left: 0, top: 0, display: "block" }}
    >
      <rect x={0} y={0} width={882} height={1323} fill="#d6d6d6" />
      <rect x={10} y={8} width={872} height={1315} fill="#ffffff" />
      {PANELS.map((c) => (
        <Panel key={c.id} c={c} />
      ))}
    </svg>
  );
}
